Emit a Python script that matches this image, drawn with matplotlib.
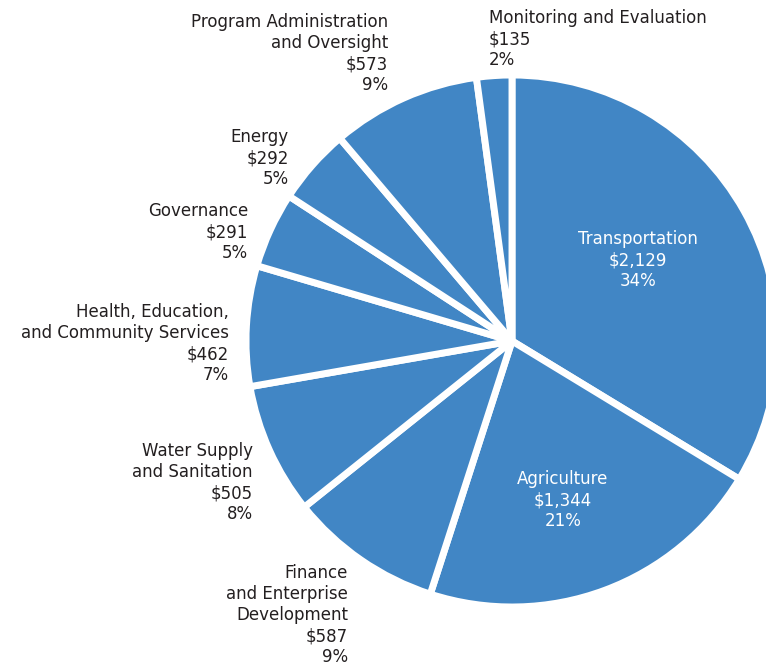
import matplotlib.pyplot as plt

categories = ["Transportation", "Agriculture", "Finance\nand Enterprise\nDevelopment",
              "Water Supply\nand Sanitation", "Health, Education,\nand Community Services",
              "Governance", "Energy", "Program Administration\nand Oversight",
              "Monitoring and Evaluation"]
values = [2129, 1344, 587, 505, 462, 291, 292, 573, 135]

# label anchor (pixel x, pixel y of first line top), alignment, colour
label_pos = [(638, 230, "center", "white"), (563, 470, "center", "white"),
             (348, 564, "right", "#231f20"), (253, 442, "right", "#231f20"),
             (229, 303, "right", "#231f20"), (248, 202, "right", "#231f20"),
             (289, 128, "right", "#231f20"), (388, 13, "right", "#231f20"),
             (489, 9, "left", "#231f20")]

W, H = 766, 669
fig = plt.figure(figsize=(W / 100, H / 100), dpi=100)
ax = fig.add_axes([0, 0, 1, 1])
ax.axis("off")

ax.pie(values, center=(512, H - 341), radius=266, startangle=90, counterclock=False,
       colors=["#4186c5"] * len(values),
       wedgeprops=dict(edgecolor="white", linewidth=5, joinstyle="round"))
ax.set_xlim(0, W)
ax.set_ylim(0, H)
ax.set_aspect("equal")

total = sum(values)
for cat, v, (x, y, ha, col) in zip(categories, values, label_pos):
    txt = f"{cat}\n${v:,}\n{round(100 * v / total)}%"
    ax.text(x, H - y, txt, ha=ha, va="top", multialignment=ha, color=col,
            fontsize=12, family="DejaVu Sans", linespacing=1.22)

fig.savefig("out.png", dpi=100)
